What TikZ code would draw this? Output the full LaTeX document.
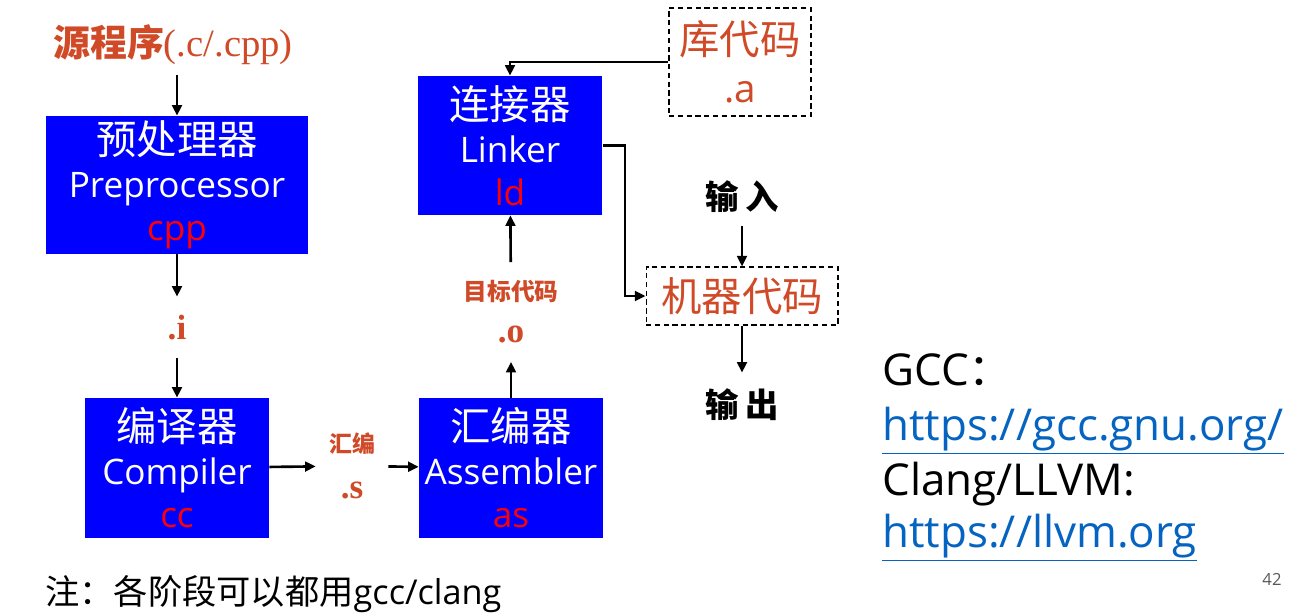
\documentclass[tikz,border=0pt]{standalone}
\usepackage{fontspec}
\setmainfont{Open Sans}
\newfontfamily\cjk{Noto Sans CJK SC}
\newfontfamily\serifl{Liberation Serif}
\usetikzlibrary{positioning,arrows.meta}
\definecolor{stagered}{RGB}{208,74,40}
\definecolor{boxblue}{RGB}{0,0,255}
\definecolor{linkblue}{RGB}{5,99,193}
\definecolor{pagegray}{RGB}{89,89,89}

\newcommand{\bighan}[1]{{\cjk\fontsize{23}{24.5}\selectfont #1}}
\newcommand{\dotext}[1]{{\serifl\bfseries\fontsize{20}{20}\selectfont #1}}

\tikzset{
  stage/.style={fill=boxblue, text=white, align=center, inner sep=0pt,
    font=\fontsize{20}{24.5}\selectfont},
  file/.style={draw, dashed, dash pattern=on 3pt off 2pt, line width=0.6pt,
    text=stagered, align=center, inner sep=0pt, font=\fontsize{22}{27}\selectfont},
  tag/.style={text=stagered, align=center, inner sep=0pt},
  ext/.style={inner sep=0pt, font=\cjk\bfseries\fontsize{19}{19}\selectfont},
  flow/.style={black, line width=1.5pt, -{Triangle[length=6pt,width=5.5pt]}},
}

\begin{document}
\begin{tikzpicture}[x=0.02cm,y=-0.02cm]
\useasboundingbox (0,0) rectangle (1300,612);

% stages
\node[stage, minimum width=5.24cm, minimum height=2.76cm] (pre) at (177,185) {\bighan{预处理器}\\Preprocessor\\\color{red}cpp};
\node[stage, minimum width=3.68cm, minimum height=2.8cm] (cc) at (177,468) {\bighan{编译器}\\Compiler\\\color{red}cc};
\node[stage, minimum width=3.68cm, minimum height=2.8cm] (as) at (511,468) {\bighan{汇编器}\\Assembler\\\color{red}as};
\node[stage, minimum width=3.7cm, minimum height=2.78cm] (ld) at (510,145.5) {\bighan{连接器}\\Linker\\\color{red}ld};

% files
\node[tag, minimum height=1.2cm, font=\fontsize{21}{21}\selectfont] (src) at (173,45) {{\cjk\bfseries 源程序}{\serifl\fontsize{22}{22}\selectfont (.c/.cpp)}};
\node[tag, minimum height=1.22cm] (i) at (177,327.5) {\dotext{.i}};
\node[tag, minimum width=1.44cm, font=\fontsize{13}{26}\selectfont] (s) at (352,466) {{\cjk\bfseries 汇编}\\\dotext{.s}};
\node[tag, minimum height=1.98cm, font=\fontsize{13.5}{24}\selectfont] (o) at (511,312) {{\cjk\bfseries 目标代码}\\\dotext{.o}};
\node[file, minimum width=2.84cm, minimum height=2.16cm] (lib) at (740,62) {\bighan{库代码}\\.a};
\node[file, minimum width=3.84cm, minimum height=1.16cm] (mc) at (742,296) {\bighan{机器代码}};
\node[ext, minimum height=1.16cm] (in) at (742,197) {输\hspace{0.2em}入};
\node[ext, minimum height=1.28cm] (out) at (742,405) {输\hspace{0.2em}出};

% flow
\draw[flow] (pre.north |- src.south) -- (pre.north);
\draw[flow] (pre) -- (i);
\draw[flow] (i) -- (cc);
\draw[flow] (cc) -- (s);
\draw[flow] (s) -- (as);
\draw[flow] (as) -- (o);
\draw[flow] (o) -- (ld);
\draw[flow] (lib.west) -| (ld.north);
\draw[flow] (ld.east) -- ++(22,0) |- (mc.west);
\draw[flow] (in) -- (mc);
\draw[flow] (mc) -- (out);

% links
\node[anchor=base west, inner sep=0pt, font=\fontsize{25}{25}\selectfont] (gccline) at (882,385) {GCC{\cjk ：}};
\node[anchor=base west, inner sep=0pt, text=linkblue, font=\fontsize{25}{25}\selectfont] (gccurl) at (882,440) {\underline{https://gcc.gnu.org/}};
\node[anchor=base west, inner sep=0pt, font=\fontsize{25}{25}\selectfont] (llvmline) at (882,495) {Clang/LLVM:};
\node[anchor=base west, inner sep=0pt, text=linkblue, font=\fontsize{25}{25}\selectfont] (llvmurl) at (882,547) {\underline{https://llvm.org}};

\node[anchor=base west, inner sep=0pt, font=\fontsize{19.5}{19.5}\selectfont] (note) at (45,604) {{\cjk 注：各阶段可以都用}gcc/clang};
\node[anchor=base, inner sep=0pt, text=pagegray, font=\fontsize{9.5}{9.5}\selectfont] (page) at (1272,585) {42};
\end{tikzpicture}
\end{document}
